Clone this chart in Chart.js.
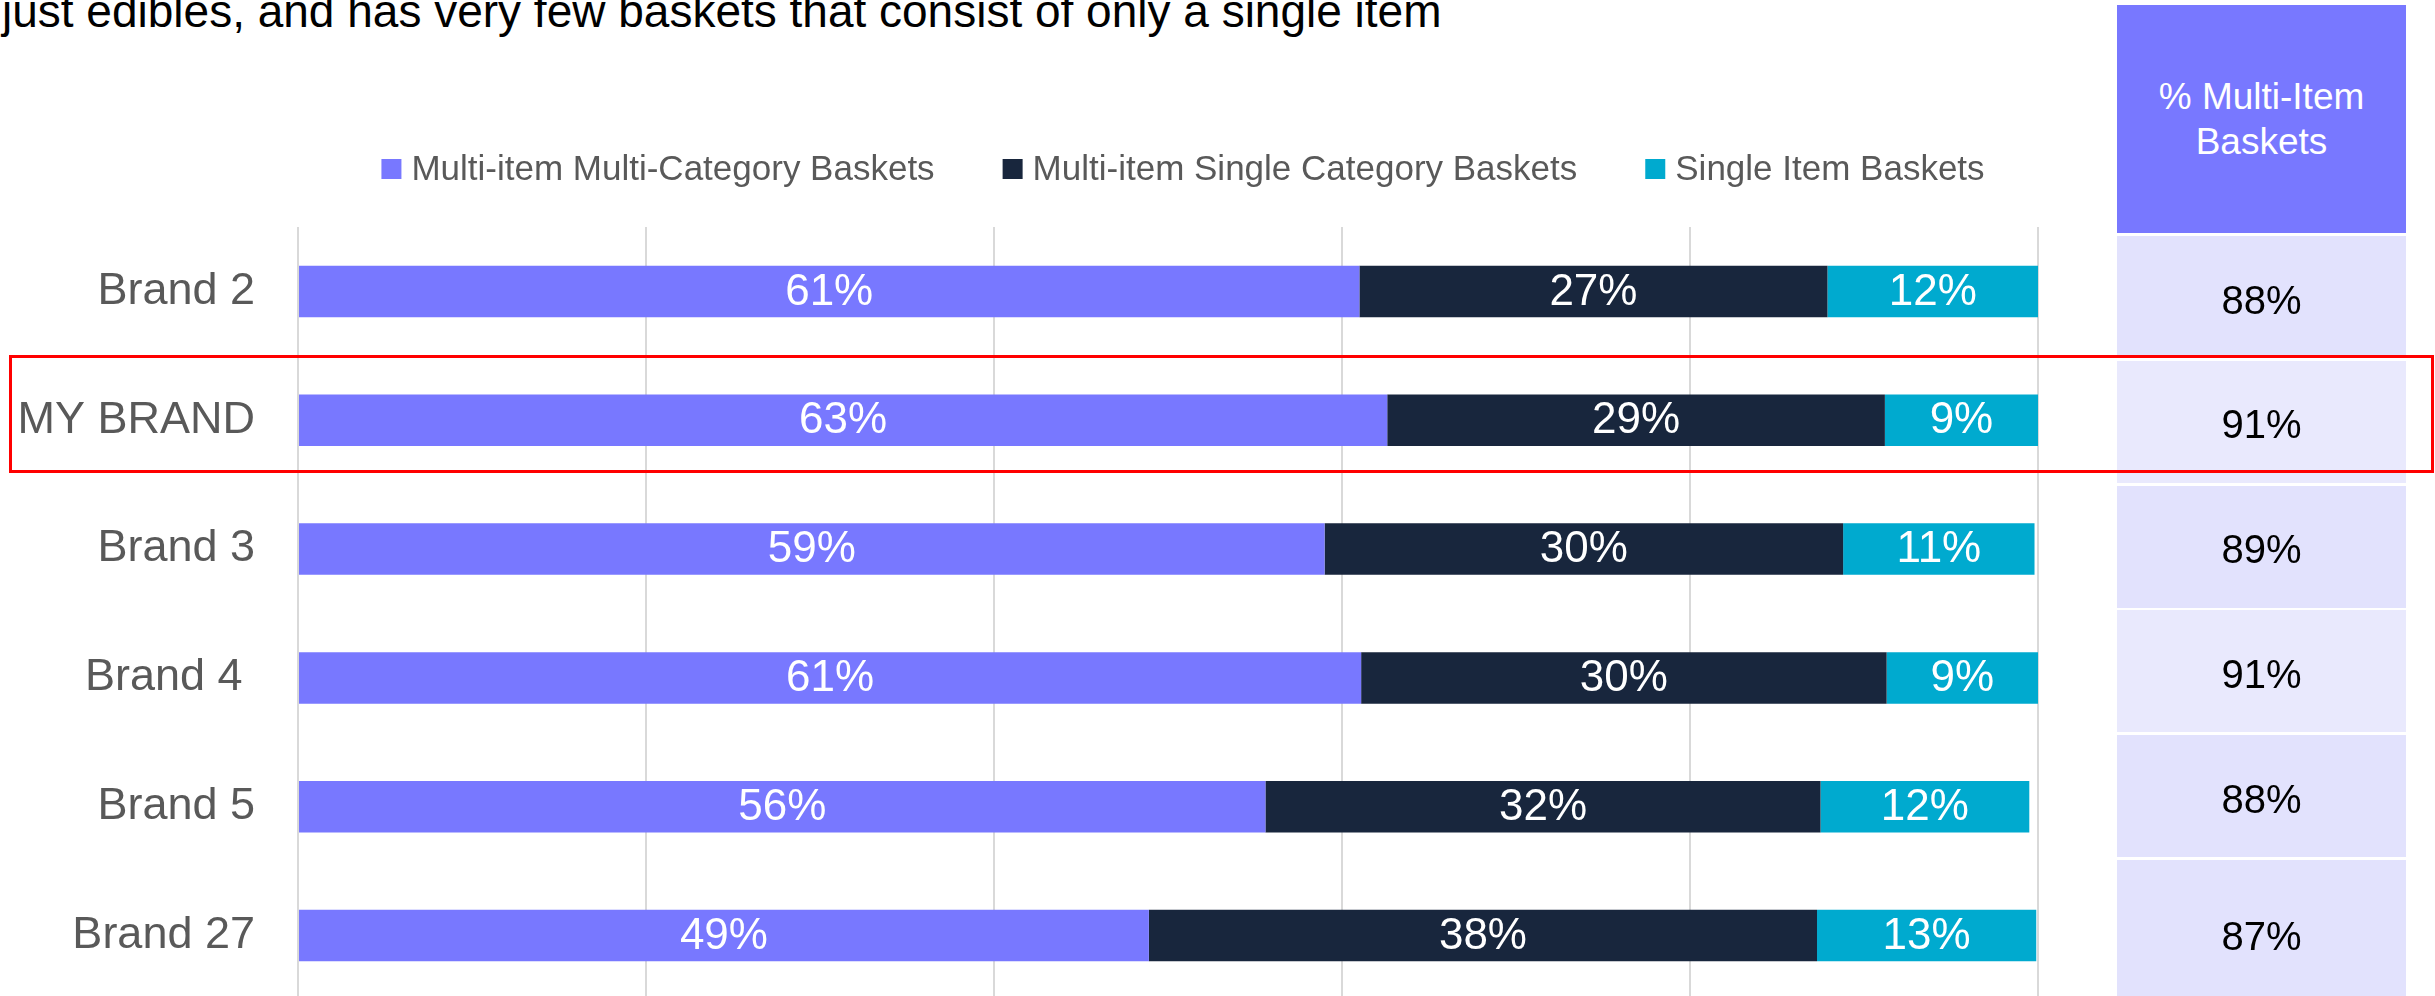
<!DOCTYPE html>
<html>
<head>
<meta charset="utf-8">
<script src="https://cdn.jsdelivr.net/npm/chart.js@4"></script>
<style>
  body { margin: 0; background: #fff; overflow: hidden; font-family: "Liberation Sans", Arial, sans-serif; }
  #wrap { position: relative; width: 2435px; height: 996px; overflow: hidden; }
  /* canvas is taller than the page so the plot area runs off the bottom like the original */
  #chart-box { position: absolute; left: 0; top: 0; width: 2435px; height: 1070px; }
  #subtitle { position: absolute; left: 2px; top: -11px; font-size: 46px; line-height: 45px; color: #000; white-space: nowrap; }
  .cell { position: absolute; left: 2117px; width: 289px; display: flex; align-items: center; justify-content: center; text-align: center; box-sizing: border-box; }
  .head { top: 5px; height: 228px; background: #7878ff; color: #fff; font-size: 37px; line-height: 45px; }
  .val { font-size: 40px; color: #000; padding-top: 6px; }
  #highlight { position: absolute; left: 9px; top: 355px; width: 2425px; height: 118px; border: 3px solid #ff0000; box-sizing: border-box; }
</style>
</head>
<body>
<div id="wrap">
  <div id="subtitle">just edibles, and has very few baskets that consist of only a single item</div>
  <div id="chart-box"><canvas id="basket-chart"></canvas></div>
  <div id="table"></div>
  <div id="highlight"></div>
</div>
<script>
// Chart data
const categories = ['Brand 2', 'MY BRAND', 'Brand 3', 'Brand 4 ', 'Brand 5', 'Brand 27'];
const seriesNames = ['Multi-item Multi-Category Baskets', 'Multi-item Single Category Baskets', 'Single Item Baskets'];
const multiCategory = [61.0, 62.6, 59.0, 61.1, 55.6, 48.9];
const singleCategory = [26.9, 28.6, 29.8, 30.2, 31.9, 38.4];
const singleItem = [12.1, 8.8, 11.0, 8.7, 12.0, 12.6];
const multiItemPct = [88, 91, 89, 91, 88, 87];
const tableHeader = ['% Multi-Item', 'Baskets'];

const FONT = '"Liberation Sans", Arial, sans-serif';

// White % labels in the middle of each segment
const barLabels = {
    id: 'barLabels',
    afterDatasetsDraw(chart) {
        const ctx = chart.ctx;
        ctx.save();
        ctx.font = '44px ' + FONT;
        ctx.fillStyle = '#ffffff';
        ctx.textAlign = 'center';
        ctx.textBaseline = 'middle';
        chart.data.datasets.forEach((ds, i) => {
            chart.getDatasetMeta(i).data.forEach((bar, j) => {
                ctx.fillText(Math.round(ds.data[j]) + '%', (bar.x + bar.base) / 2, bar.y + 1);
            });
        });
        ctx.restore();
    }
};

// Legend row above the bars
const legendRow = {
    id: 'legendRow',
    afterDraw(chart) {
        const ctx = chart.ctx;
        ctx.save();
        ctx.font = '35px ' + FONT;
        ctx.textBaseline = 'middle';
        const box = 20, gap = 10, spacing = 68;
        const items = chart.data.datasets.map(ds => ({
            text: ds.label, color: ds.backgroundColor, w: ctx.measureText(ds.label).width
        }));
        const total = items.reduce((s, it) => s + box + gap + it.w, 0) + spacing * (items.length - 1);
        let x = 1183 - total / 2;
        const y = 169;
        items.forEach(it => {
            ctx.fillStyle = it.color;
            ctx.fillRect(x, y - box / 2, box, box);
            ctx.fillStyle = '#595959';
            ctx.fillText(it.text, x + box + gap, y + 1);
            x += box + gap + it.w + spacing;
        });
        ctx.restore();
    }
};

const config = {
    type: 'bar',
    data: {
        labels: categories,
        datasets: [
            { label: seriesNames[0], data: multiCategory, backgroundColor: '#7878ff' },
            { label: seriesNames[1], data: singleCategory, backgroundColor: '#18263d' },
            { label: seriesNames[2], data: singleItem, backgroundColor: '#00aacf' }
        ]
    },
    options: {
        indexAxis: 'y',
        responsive: true,
        maintainAspectRatio: false,
        animation: false,
        datasets: { bar: { barPercentage: 0.4, categoryPercentage: 1 } },
        layout: { padding: { top: 227, right: 397, left: 0, bottom: 0 } },
        plugins: { legend: { display: false }, tooltip: { enabled: false } },
        scales: {
            x: {
                stacked: true,
                min: 0,
                max: 100,
                ticks: { display: false, stepSize: 20 },
                grid: { color: '#d9d9d9', lineWidth: 2, drawTicks: false },
                border: { display: false }
            },
            y: {
                stacked: true,
                afterFit: scale => { scale.width = 298; },
                ticks: { color: '#595959', padding: 43, font: { family: FONT, size: 45 } },
                grid: { display: false, drawTicks: false },
                border: { display: false }
            }
        }
    },
    plugins: [barLabels, legendRow]
};

new Chart(document.getElementById('basket-chart'), config);

// Side table: % multi-item baskets
const table = document.getElementById('table');
const head = document.createElement('div');
head.className = 'cell head';
head.innerHTML = tableHeader.join('<br>');
table.appendChild(head);
multiItemPct.forEach((v, i) => {
    const cell = document.createElement('div');
    cell.className = 'cell val';
    cell.style.top = (236 + 124.8 * i) + 'px';
    cell.style.height = (i === multiItemPct.length - 1 ? 146 : 122) + 'px';
    cell.style.background = v >= 90 ? '#e9e9fd' : '#e2e2fd';
    cell.textContent = v + '%';
    table.appendChild(cell);
});
</script>
</body>
</html>
